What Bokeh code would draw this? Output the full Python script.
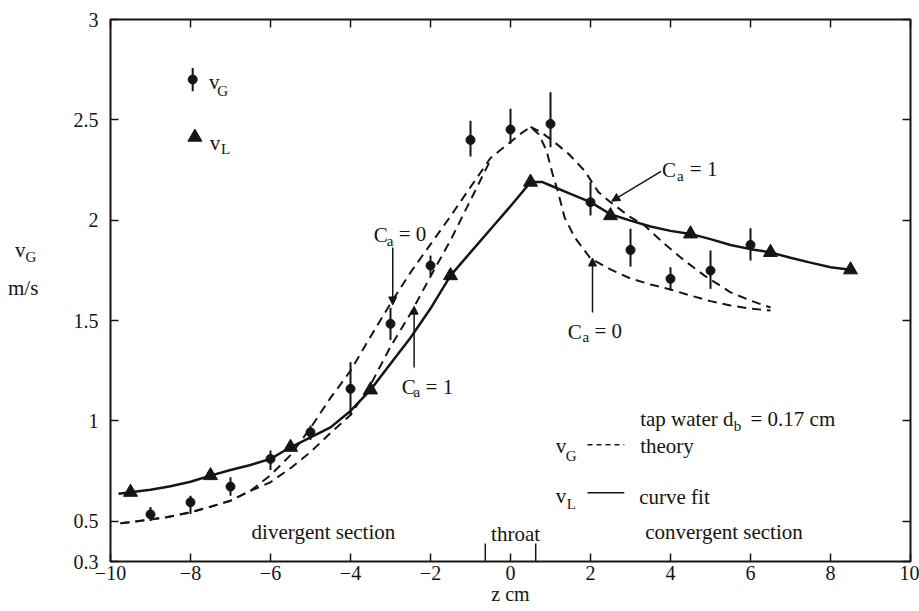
from bokeh.plotting import figure
from bokeh.layouts import row
from bokeh.models import (Range1d, LinearAxis, FixedTicker, Label, Arrow,
                          NormalHead, ColumnDataSource, NumeralTickFormatter, Div)
from bokeh.embed import file_html
from bokeh.resources import INLINE

# gas velocity measurements: axial position z (cm), v_G (m/s), error bar extents
Z_VG = [-9, -8, -7, -6, -5, -4, -3, -2, -1, 0, 1, 2, 3, 4, 5, 6]
VG = [0.535, 0.595, 0.673, 0.811, 0.944, 1.16, 1.484, 1.774, 2.40, 2.452,
      2.48, 2.09, 1.852, 1.708, 1.749, 1.877]
VG_ERR_UP = [0.037, 0.033, 0.047, 0.042, 0.033, 0.133, 0.08, 0.05, 0.096,
             0.103, 0.158, 0.10, 0.105, 0.058, 0.10, 0.083]
VG_ERR_DN = [0.033, 0.058, 0.045, 0.055, 0.038, 0.133, 0.08, 0.05, 0.083,
             0.071, 0.116, 0.066, 0.083, 0.058, 0.091, 0.078]

# liquid velocity measurements
Z_VL = [-9.5, -7.5, -5.5, -3.5, -1.5, 0.5, 2.5, 4.5, 6.5, 8.5]
VL = [0.645, 0.728, 0.869, 1.155, 1.724, 2.19, 2.023, 1.932, 1.84, 1.753]

# curve fit through v_L
Z_FIT = [-9.8, -9.5, -9.0, -8.5, -8.0, -7.5, -7.0, -6.5, -6.0, -5.5,
         -5.0, -4.5, -4.0, -3.5, -3.0, -2.5, -2.0, -1.5, -1.0, -0.5,
         0.0, 0.5, 0.8, 1.06, 1.5, 2.0, 2.5, 3.0, 3.5, 4.0,
         4.5, 5.0, 5.5, 6.0, 6.5, 7.0, 7.5, 8.0, 8.5]
V_FIT = [0.637, 0.645, 0.657, 0.675, 0.697, 0.728, 0.756, 0.781, 0.811, 0.869,
         0.918, 0.968, 1.05, 1.155, 1.285, 1.415, 1.56, 1.724, 1.84, 1.955,
         2.07, 2.19, 2.19, 2.168, 2.131, 2.09, 2.03, 1.998, 1.969, 1.947,
         1.932, 1.906, 1.877, 1.856, 1.84, 1.813, 1.789, 1.766, 1.753]

# theory for v_G, added-mass coefficient C_a = 0
Z_CA0 = [-9.75, -9.2, -8.6, -8.0, -7.5, -7.0, -6.5, -6.0, -5.5, -5.0,
         -4.5, -4.0, -3.5, -3.0, -2.5, -2.0, -1.5, -1.0, -0.5, 0.0,
         0.25, 0.5, 0.7, 0.9, 1.05, 1.2, 1.35, 1.6, 2.0, 2.5,
         3.0, 3.5, 4.0, 4.5, 5.0, 5.5, 6.0, 6.5]
V_CA0 = [0.49, 0.504, 0.52, 0.545, 0.573, 0.603, 0.652, 0.73, 0.83, 0.965,
         1.115, 1.25, 1.42, 1.585, 1.74, 1.88, 2.02, 2.165, 2.31, 2.39,
         2.43, 2.465, 2.43, 2.348, 2.232, 2.132, 2.015, 1.916, 1.81, 1.755,
         1.71, 1.68, 1.655, 1.625, 1.597, 1.575, 1.56, 1.55]

# theory for v_G, C_a = 1
Z_CA1 = [-9.75, -9.2, -8.6, -8.0, -7.5, -7.0, -6.5, -6.0, -5.5, -5.0,
         -4.5, -4.0, -3.5, -3.0, -2.5, -2.0, -1.5, -1.0, -0.5, 0.0,
         0.25, 0.5, 0.75, 1.05, 1.45, 1.85, 2.2, 2.5, 3.0, 3.35,
         3.85, 4.35, 4.85, 5.5, 6.0, 6.5]
V_CA1 = [0.49, 0.504, 0.52, 0.545, 0.573, 0.603, 0.652, 0.695, 0.765, 0.845,
         0.94, 1.03, 1.18, 1.37, 1.535, 1.72, 1.90, 2.10, 2.30, 2.39,
         2.43, 2.465, 2.44, 2.397, 2.331, 2.247, 2.14, 2.09, 2.015, 1.974,
         1.882, 1.799, 1.724, 1.641, 1.60, 1.565]

# throat boundaries (cm)
THROAT_Z = [-0.63, 0.63]

X_TICKS = [-10, -8, -6, -4, -2, 0, 2, 4, 6, 8, 10]
X_TICK_LABELS = ["\u221210", "\u22128", "\u22126", "\u22124", "\u22122",
                 "0", "2", "4", "6", "8", "10"]
Y_TICKS = [0.3, 0.5, 1, 1.5, 2, 2.5, 3]

FONT = "Liberation Serif"
INK = "#151515"
FS = "21px"
FS_SUB = "15px"

TITLE_W = 50

p = figure(width=919 - TITLE_W, height=611,
           x_range=Range1d(-10, 10), y_range=Range1d(0.3, 3.0),
           output_backend="svg", toolbar_location=None,
           x_axis_location=None, y_axis_location=None,
           min_border_left=110 - TITLE_W, min_border_right=9,
           min_border_top=19, min_border_bottom=50)
p.grid.visible = False
p.background_fill_color = "white"
p.border_fill_color = "white"
p.outline_line_color = INK
p.outline_line_width = 2


def tick_axis(ticks, labelled):
    ax = LinearAxis(ticker=FixedTicker(ticks=ticks))
    ax.axis_line_color = None
    ax.major_tick_in = 8
    ax.major_tick_out = 0
    ax.major_tick_line_color = INK
    ax.major_tick_line_width = 1.5
    ax.minor_tick_line_color = None
    if labelled:
        ax.major_label_text_font = FONT
        ax.major_label_text_font_size = "20px"
        ax.major_label_text_color = INK
    else:
        ax.major_label_text_font_size = "1px"
        ax.major_label_text_color = None
        ax.major_label_standoff = 0
    return ax


xb = tick_axis(X_TICKS, True)
xb.major_label_overrides = dict(zip(X_TICKS, X_TICK_LABELS))
xb.major_label_standoff = 4
xb.axis_label = "z cm"
xb.axis_label_text_font = FONT
xb.axis_label_text_font_size = "20px"
xb.axis_label_text_font_style = "normal"
xb.axis_label_text_color = INK
xb.axis_label_standoff = 0
p.add_layout(xb, "below")

yl = tick_axis(Y_TICKS, True)
yl.formatter = NumeralTickFormatter(format="0.[0]")
yl.major_label_standoff = 12
p.add_layout(yl, "left")

p.add_layout(tick_axis(X_TICKS, False), "above")
p.add_layout(tick_axis(Y_TICKS, False), "right")


def put(text, x, y, size=FS):
    p.add_layout(Label(x=x, y=y, text=text,
                       text_font=FONT, text_font_size=size, text_color=INK,
                       text_align="left", text_baseline="alphabetic"))


# theory curves; C_a = 1 is drawn only where it leaves the C_a = 0 curve
p.line(Z_CA0, V_CA0, line_color=INK, line_width=2, line_dash="9 6")
rise = [i for i, z in enumerate(Z_CA1) if z <= -0.5]
fall = [i for i, z in enumerate(Z_CA1) if z >= 0.5]
for idx in (rise, fall):
    p.line([Z_CA1[i] for i in idx], [V_CA1[i] for i in idx],
           line_color=INK, line_width=2, line_dash="9 6")

# curve fit
p.line(Z_FIT, V_FIT, line_color=INK, line_width=2.5)

# error bars and markers
err = ColumnDataSource(dict(
    z=Z_VG,
    lo=[v - d for v, d in zip(VG, VG_ERR_DN)],
    hi=[v + u for v, u in zip(VG, VG_ERR_UP)],
))
p.segment(x0="z", y0="lo", x1="z", y1="hi", source=err,
          line_color=INK, line_width=2)
p.scatter(Z_VG, VG, marker="circle", size=9, fill_color=INK, line_color=INK)
p.scatter(Z_VL, VL, marker="triangle", size=14, fill_color=INK, line_color=INK)

# throat markers on the z axis
p.segment(x0=THROAT_Z, y0=[0.3, 0.3], x1=THROAT_Z, y1=[0.39, 0.39],
          line_color=INK, line_width=1.5)

# symbol key, upper left
p.segment(x0=[-7.945], y0=[2.643], x1=[-7.945], y1=[2.759],
          line_color=INK, line_width=2)
p.scatter([-7.945], [2.701], marker="circle", size=9, fill_color=INK, line_color=INK)
p.scatter([-7.89], [2.414], marker="triangle", size=14, fill_color=INK, line_color=INK)
put("v", -7.54, 2.691)
put("G", -7.33, 2.646, size=FS_SUB)
put("v", -7.516, 2.387)
put("L", -7.24, 2.357, size=FS_SUB)


def head():
    return NormalHead(size=8, fill_color=INK, line_color=INK, line_width=1)


# C_a annotations with arrows
put("C", -3.416, 1.924)
put("a", -3.093, 1.899, size=FS_SUB)
put("= 0", -2.795, 1.929)
p.add_layout(Arrow(end=head(), x_start=-2.944, y_start=1.864,
                   x_end=-2.944, y_end=1.578, line_color=INK, line_width=1.5))

put("C", -2.72, 1.171)
put("a", -2.422, 1.146, size=FS_SUB)
put("= 1", -2.124, 1.171)
p.add_layout(Arrow(end=head(), x_start=-2.41, y_start=1.266,
                   x_end=-2.41, y_end=1.572, line_color=INK, line_width=1.5))

put("C", 3.789, 2.248)
put("a", 4.161, 2.218, size=FS_SUB)
put("= 1", 4.484, 2.253)
p.add_layout(Arrow(end=head(), x_start=3.764, y_start=2.243,
                   x_end=2.53, y_end=2.095, line_color=INK, line_width=1.5))

put("C", 1.429, 1.445)
put("a", 1.801, 1.42, size=FS_SUB)
put("= 0", 2.099, 1.45)
p.add_layout(Arrow(end=head(), x_start=2.05, y_start=1.54,
                   x_end=2.05, y_end=1.812, line_color=INK, line_width=1.5))

# run conditions and line key, lower right
put("tap water d", 3.242, 1.012)
put("b", 5.58, 0.977, size=FS_SUB)
put("= 0.17 cm", 6.0, 1.012)

put("v", 1.13, 0.877)
put("G", 1.379, 0.828, size=FS_SUB)
p.line([1.925, 2.845], [0.882, 0.882], line_color=INK, line_width=1.5,
       line_dash="5 4")
put("theory", 3.242, 0.877)

put("v", 1.13, 0.628)
put("L", 1.404, 0.588, size=FS_SUB)
p.line([1.925, 2.845], [0.643, 0.643], line_color=INK, line_width=1.5)
put("curve fit", 3.217, 0.623)

# nozzle sections
put("divergent section", -6.472, 0.449)
put("throat", -0.485, 0.439)
put("convergent section", 3.366, 0.445)

# vertical-axis title, set beside the plot
title = Div(
    text=(
        f'<div style="position:relative;width:{TITLE_W}px;height:611px;'
        f'font-family:\'{FONT}\';font-size:21px;color:{INK};line-height:1;">'
        '<div style="position:absolute;left:15px;top:240px;">v'
        '<sub style="font-size:15px;vertical-align:-5px;">G</sub></div>'
        '<div style="position:absolute;left:8px;top:278px;">m/s</div>'
        '</div>'
    ),
    width=TITLE_W, height=611, margin=0,
)

layout = row(title, p, spacing=0)
open("out.html", "w").write(file_html(layout, INLINE))
